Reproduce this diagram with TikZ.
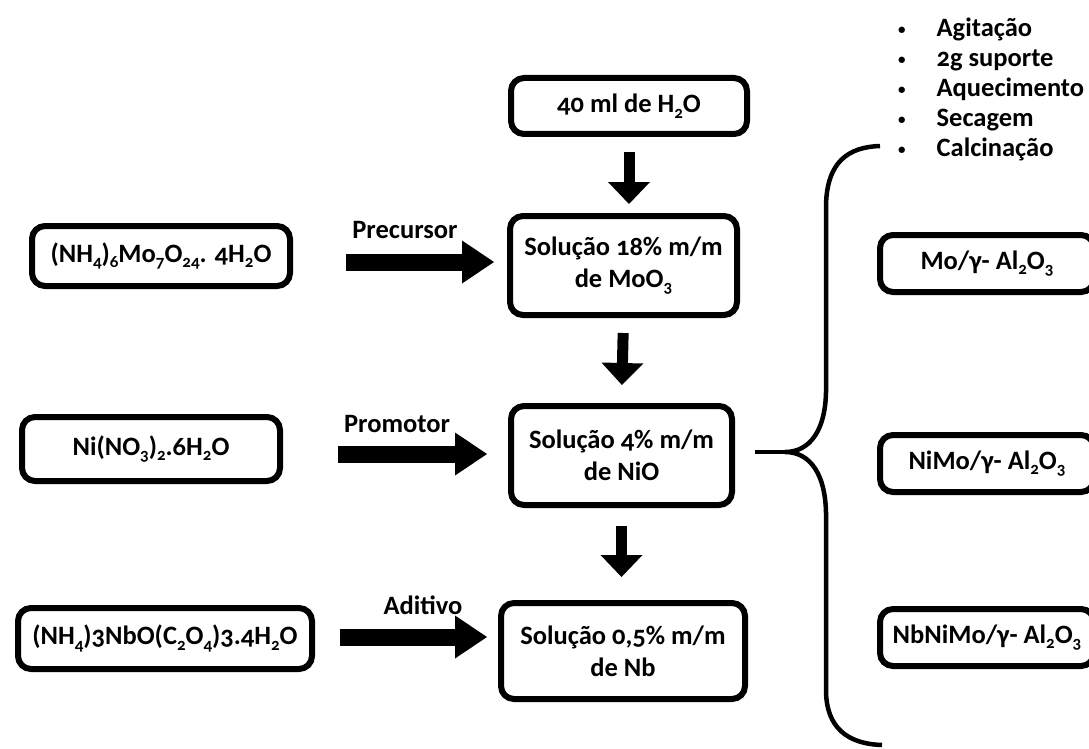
\documentclass[tikz,border=0pt]{standalone}
\usepackage{fontspec}
\setmainfont{Carlito}[Numbers=OldStyle]
\usetikzlibrary{arrows.meta,calc}
\newcommand{\sub}[1]{\raisebox{-0.45ex}{\fontsize{17}{17}\selectfont #1}}
\newcommand{\smallbullet}{\raisebox{0.15ex}{\fontsize{15}{15}\selectfont\textbullet}}
\begin{document}
\begin{tikzpicture}[x=1pt,y=-1pt,
  box/.style={draw, line width=6pt, rounded corners=13pt, align=center, inner sep=0pt,
    font=\bfseries\fontsize{26.5}{32}\selectfont},
  varrow/.style={line width=11pt, -{Triangle[width=42pt,length=22pt,line width=0pt]}},
  harrow/.style={line width=17pt, -{Triangle[width=43pt,length=32pt,line width=0pt]}},
  lbl/.style={font=\bfseries\fontsize{26.5}{30}\selectfont, inner sep=0pt},
  brace/.style={line width=4.5pt}]
\useasboundingbox (0,0) rectangle (1089,749);
\clip (0,0) rectangle (1089,749);
% left column
\node[box, minimum width=258pt, minimum height=60pt] (A) at (161,256) {(NH\sub{4})\sub{6}Mo\sub{7}O\sub{24}. 4H\sub{2}O};
\node[box, minimum width=258pt, minimum height=64pt] (Ni) at (151,449) {Ni(NO\sub{3})\sub{2}.6H\sub{2}O};
\node[box, minimum width=294pt, minimum height=61pt] (Nb) at (165,638.5) {(NH\sub{4})3NbO(C\sub{2}O\sub{4})3.4H\sub{2}O};
% middle column
\node[box, minimum width=236pt, minimum height=56pt] (w40) at (629,106) {40 ml de H\sub{2}O};
\node[box, minimum width=227pt, minimum height=99pt] (b18) at (623.5,265.5) {Solução 18\% m/m\\de MoO\sub{3}};
\node[box, minimum width=221pt, minimum height=99pt] (b4) at (621.5,455.5) {Solução 4\% m/m\\de NiO};
\node[box, minimum width=244pt, minimum height=96pt] (b05) at (623,651) {Solução 0,5\% m/m\\de Nb};
% right column
\node[box, minimum width=214pt, minimum height=57pt] (R1) at (987,263.5) {Mo/γ- Al\sub{2}O\sub{3}};
\node[box, minimum width=214pt, minimum height=57pt] (R2) at (987,463.5) {NiMo/γ- Al\sub{2}O\sub{3}};
\node[box, minimum width=214pt, minimum height=57pt] (R3) at (987,637.5) {NbNiMo/γ- Al\sub{2}O\sub{3}};
% bullet list
\node[lbl, anchor=north west] (list) at (898,15) {\fontsize{26.5}{30}\selectfont
  \begin{tabular}{@{}l@{\hspace{31pt}}l@{}}
  \smallbullet & Agitação\\
  \smallbullet & 2g suporte\\
  \smallbullet & Aquecimento\\
  \smallbullet & Secagem\\
  \smallbullet & Calcinação
  \end{tabular}};
% vertical arrows
\draw[varrow, shorten <=15pt, shorten >=9pt] (w40.south) -- (w40.south |- b18.north);
\draw[varrow, shorten <=15pt, shorten >=18pt] (b18.south) -- (b4.north);
\draw[varrow, shorten <=18pt, shorten >=23pt] (b4.south) -- (b4.south |- b05.north);
% horizontal arrows
\draw[harrow, shorten <=53pt, shorten >=13pt] ([yshift=3.5pt]b18.west -| A.east) -- ([yshift=3.5pt]b18.west);
\draw[harrow, shorten <=55pt, shorten >=21pt] ([yshift=1.5pt]b4.west -| Ni.east) -- ([yshift=1.5pt]b4.west);
\draw[harrow, shorten <=25pt, shorten >=11pt] ([yshift=14pt]b05.west -| Nb.east) -- ([yshift=14pt]b05.west);
% arrow labels
\node[lbl] (lprec) at (405,230) {Precursor};
\node[lbl] (lprom) at (397,424) {Promotor};
\node[lbl] (ladit) at (423,605) {Aditivo};
% brace
\coordinate (tip) at (785,452);
\draw[brace, shorten <=20pt] (b4.east |- tip) -- (tip);
\draw[brace] (880,146) .. controls (848,147) and (827,162) .. (826,205) -- (826,385)
  .. controls (827,430) and (810,452) .. (tip)
  .. controls (810,452) and (827,474) .. (826,520) -- (826,690)
  .. controls (826,728) and (848,744) .. (882,745);
\end{tikzpicture}
\end{document}
